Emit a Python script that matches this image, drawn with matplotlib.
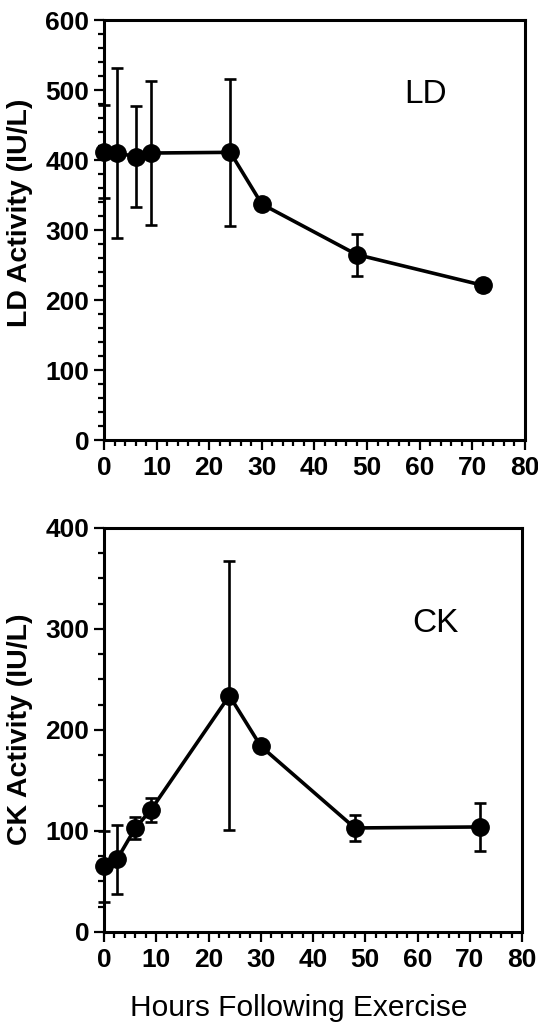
"""Recreate LD / CK activity after exercise."""

import matplotlib
matplotlib.use("Agg")
import matplotlib.pyplot as plt
from matplotlib.ticker import MultipleLocator

plt.rcParams['font.family'] = ['Liberation Sans', 'DejaVu Sans']

HOURS = [0, 2.5, 6, 9, 24, 30, 48, 72]
LD_MEAN = [412, 410, 405, 410, 411, 337, 265, 221]
LD_ERR = [66, 122, 72, 103, 105, 0, 30, 8]
CK_MEAN = [65, 72, 103, 121, 234, 184, 103, 104]
CK_ERR = [35, 34, 11, 12, 133, 0, 13, 24]
XTICKS = [0, 10, 20, 30, 40, 50, 60, 70, 80]


def style_axes(ax, ymax, ymajor, yminor):
    ax.set_xlim(0, 80)
    ax.set_ylim(0, ymax)
    ax.set_xticks(XTICKS)
    ax.xaxis.set_minor_locator(MultipleLocator(2))
    ax.yaxis.set_major_locator(MultipleLocator(ymajor))
    ax.yaxis.set_minor_locator(MultipleLocator(yminor))
    for sp in ax.spines.values():
        sp.set_linewidth(2.2)
    ax.tick_params(which='both', direction='out', top=False, right=False,
                   width=1.6)
    ax.tick_params(which='major', length=7.5, pad=3, labelsize=19)
    ax.tick_params(axis='x', which='major', pad=4)
    ax.tick_params(which='minor', length=4.5)
    for lab in ax.get_xticklabels() + ax.get_yticklabels():
        lab.set_fontweight('bold')


def panel(ax, mean, err):
    ax.errorbar(HOURS, mean, yerr=err, fmt='-o', color='black', ms=12.5,
                lw=2.6, elinewidth=1.9, capsize=4, capthick=1.9,
                clip_on=False, zorder=3)


def main():
    fig = plt.figure(figsize=(5.38, 10.32), dpi=100)
    ax1 = fig.add_axes([0.1933, 0.5736, 0.7825, 0.4070])
    ax2 = fig.add_axes([0.1933, 0.0969, 0.7770, 0.3915])

    panel(ax1, LD_MEAN, LD_ERR)
    style_axes(ax1, 600, 100, 20)
    ax1.text(61.2, 494, 'LD', fontsize=24, ha='center', va='center')

    panel(ax2, CK_MEAN, CK_ERR)
    style_axes(ax2, 400, 100, 25)
    ax2.text(63.5, 305, 'CK', fontsize=24, ha='center', va='center')

    fig.text(0.038, 0.7936, 'LD Activity (IU/L)', rotation=90, fontsize=20.5,
             fontweight='bold', ha='center', va='center')
    fig.text(0.038, 0.2936, 'CK Activity (IU/L)', rotation=90, fontsize=20.5,
             fontweight='bold', ha='center', va='center')
    fig.text(0.5558, 0.0233, 'Hours Following Exercise', fontsize=21.5,
             ha='center', va='center')

    fig.savefig('out.png', dpi=100)


if __name__ == '__main__':
    main()
